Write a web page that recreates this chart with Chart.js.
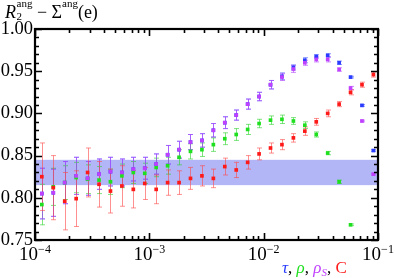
<!DOCTYPE html>
<html>
<head>
<meta charset="utf-8">
<script src="https://cdn.jsdelivr.net/npm/chart.js@4.4.1/dist/chart.umd.min.js"></script>
<style>
  html, body { margin: 0; padding: 0; background: #fff; }
  canvas { display: block; }
</style>
</head>
<body>
<canvas id="grafica" width="395" height="278"></canvas>
<script>
// x positions of the bins (log spaced)
const xVals = [
  1.148e-4, 1.445e-4, 1.820e-4, 2.291e-4, 2.884e-4, 3.631e-4, 4.571e-4, 5.754e-4, 7.244e-4, 9.120e-4,
  1.148e-3, 1.445e-3, 1.820e-3, 2.291e-3, 2.884e-3, 3.631e-3, 4.571e-3, 5.754e-3, 7.244e-3, 9.120e-3,
  1.148e-2, 1.445e-2, 1.820e-2, 2.291e-2, 2.884e-2, 3.631e-2, 4.571e-2, 5.754e-2, 7.244e-2, 9.120e-2
];

// tau (blue) - sits under rho_S until ~2e-2
const tauVals = [
  0.805, 0.806, 0.818, 0.826, 0.823, 0.828, 0.831, 0.830, 0.834, 0.835,
  0.840, 0.851, 0.857, 0.866, 0.868, 0.880, 0.889, 0.898, 0.911, 0.920,
  0.934, 0.944, 0.9545, 0.963, 0.9675, 0.9687, 0.960, 0.943, 0.9095, 0.856
];
const tauErr = [
  0.030, 0.028, 0.025, 0.022, 0.020, 0.018, 0.017, 0.016, 0.014, 0.013,
  0.012, 0.011, 0.010, 0.009, 0.008, 0.008, 0.007, 0.006, 0.006, 0.005,
  0.005, 0.004, 0.003, 0.003, 0.002, 0.002, 0.002, 0.001, 0.001, 0.001
];

// rho (green)
const rhoVals = [
  0.792, 0.813, 0.818, 0.824, 0.822, 0.821, 0.819, 0.826, 0.830, 0.829,
  0.836, 0.838, 0.848, 0.855, 0.857, 0.863, 0.870, 0.875, 0.881, 0.888,
  0.892, 0.893, 0.891, 0.886, 0.875, 0.853, 0.819, 0.768, null, null
];
const rhoErr = [
  0.024, 0.022, 0.020, 0.018, 0.017, 0.016, 0.015, 0.014, 0.013, 0.012,
  0.011, 0.010, 0.009, 0.009, 0.008, 0.008, 0.007, 0.007, 0.006, 0.005,
  0.005, 0.005, 0.004, 0.004, 0.003, 0.002, 0.002, 0.001, 0, 0
];

// rho_S (purple)
const rhoSVals = [
  0.805, 0.806, 0.818, 0.826, 0.823, 0.828, 0.831, 0.830, 0.834, 0.835,
  0.840, 0.851, 0.857, 0.866, 0.868, 0.880, 0.889, 0.898, 0.911, 0.920,
  0.934, 0.943, 0.9526, 0.960, 0.964, 0.964, 0.952, 0.930, 0.891, 0.828
];
const rhoSErr = [
  0.030, 0.028, 0.025, 0.022, 0.020, 0.018, 0.017, 0.016, 0.014, 0.013,
  0.012, 0.011, 0.010, 0.009, 0.008, 0.008, 0.007, 0.006, 0.006, 0.005,
  0.005, 0.004, 0.004, 0.003, 0.003, 0.003, 0.002, 0.002, 0.001, 0.001
];

// C (red)
const cVals = [
  0.825, 0.812, 0.796, 0.799, 0.830, 0.816, 0.808, 0.814, 0.810, 0.817,
  0.810, 0.818, 0.818, 0.823, 0.826, 0.823, 0.837, 0.833, 0.842, 0.852,
  0.859, 0.863, 0.871, 0.879, 0.890, 0.900, 0.911, 0.925, 0.934, 0.946
];
const cErr = [
  0.040, 0.038, 0.034, 0.033, 0.029, 0.027, 0.026, 0.024, 0.022, 0.019,
  0.017, 0.015, 0.014, 0.013, 0.012, 0.011, 0.010, 0.009, 0.008, 0.007,
  0.006, 0.006, 0.005, 0.005, 0.004, 0.004, 0.003, 0.003, 0.003, 0.003
];

// shaded band
const bandLow = 0.815;
const bandHigh = 0.845;

const yTickLabels = [0.75, 0.80, 0.85, 0.90, 0.95, 1.00];
const xDecades = [-4, -3, -2, -1];

const SERIF = "'Liberation Serif', 'DejaVu Serif', serif";

const toPoints = (vals) => vals.map((v, i) => ({ x: xVals[i], y: v }));

// draw a row of text pieces, each with its own font / colour / shift
function drawRuns(ctx, x, base, runs) {
  ctx.textAlign = "left";
  ctx.textBaseline = "alphabetic";
  for (const r of runs) {
    ctx.font = r.font;
    ctx.fillStyle = r.color || "#000";
    ctx.fillText(r.t, x, base + (r.dy || 0));
    let w = ctx.measureText(r.t).width;
    if (r.stack) {
      ctx.font = r.stack.font;
      ctx.fillStyle = r.stack.color || "#000";
      ctx.fillText(r.stack.t, x, base + r.stack.dy);
      w = Math.max(w, ctx.measureText(r.stack.t).width);
    }
    x += w + (r.gap || 0);
  }
  return x;
}

const decorations = {
  id: "decorations",
  beforeDatasetsDraw(chart) {
    const { ctx, chartArea: a, scales: { x, y } } = chart;
    ctx.save();
    // band
    const yt = y.getPixelForValue(bandHigh);
    const yb = y.getPixelForValue(bandLow);
    ctx.fillStyle = "#b3b6f6";
    ctx.fillRect(a.left, yt, a.right - a.left, yb - yt);

    // error bars, bottom dataset first
    ctx.lineWidth = 1;
    for (let i = chart.data.datasets.length - 1; i >= 0; i--) {
      const ds = chart.data.datasets[i];
      ctx.strokeStyle = ds.barColor;
      ds.data.forEach((p, j) => {
        if (p.y == null) return;
        const e = ds.errors[j];
        if (!e) return;
        const px = Math.round(x.getPixelForValue(p.x)) + 0.5;
        const y1 = y.getPixelForValue(p.y + e);
        const y2 = y.getPixelForValue(p.y - e);
        ctx.beginPath();
        ctx.moveTo(px, y1); ctx.lineTo(px, y2);
        ctx.moveTo(px - 2.5, y1); ctx.lineTo(px + 2.5, y1);
        ctx.moveTo(px - 2.5, y2); ctx.lineTo(px + 2.5, y2);
        ctx.stroke();
      });
    }
    ctx.restore();
  },
  afterDatasetsDraw(chart) {
    const { ctx, chartArea: a, scales: { x, y } } = chart;
    ctx.save();
    ctx.strokeStyle = "#000";
    // ticks
    ctx.lineWidth = 1.6;
    ctx.beginPath();
    for (let k = 0; k <= 25; k++) {
      const v = 0.75 + k * 0.01;
      const py = Math.round(y.getPixelForValue(v)) + 0.5;
      const len = k % 5 === 0 ? 7 : 4;
      ctx.moveTo(a.left, py); ctx.lineTo(a.left + len, py);
      ctx.moveTo(a.right, py); ctx.lineTo(a.right - len, py);
    }
    for (const d of xDecades) {
      for (let m = 1; m <= 9; m++) {
        if (d === -1 && m > 1) break;
        const px = Math.round(x.getPixelForValue(m * Math.pow(10, d))) + 0.5;
        const len = m === 1 ? 7 : 4;
        ctx.moveTo(px, a.bottom); ctx.lineTo(px, a.bottom - len);
        ctx.moveTo(px, a.top); ctx.lineTo(px, a.top + len);
      }
    }
    ctx.stroke();
    // frame
    ctx.lineWidth = 2.2;
    ctx.strokeRect(a.left, a.top, a.right - a.left, a.bottom - a.top);
    ctx.restore();
  },
  afterDraw(chart) {
    const { ctx, chartArea: a, scales: { x } } = chart;
    ctx.save();
    // x tick labels 10^n
    for (const d of xDecades) {
      const px = x.getPixelForValue(Math.pow(10, d));
      ctx.font = "19px " + SERIF;
      const w1 = ctx.measureText("10").width;
      ctx.font = "12px " + SERIF;
      const exp = "\u2212" + (-d);
      const w2 = ctx.measureText(exp).width;
      const x0 = px - (w1 + w2) / 2;
      drawRuns(ctx, x0, 260, [
        { t: "10", font: "19px " + SERIF },
        { t: exp, font: "12px " + SERIF, dy: -7 }
      ]);
    }
    // y axis title
    drawRuns(ctx, 5, 18, [
      { t: "R", font: "italic 18px " + SERIF, gap: 0.5 },
      { t: "2", font: "11px " + SERIF, dy: 1.5,
        stack: { t: "ang", font: "11px " + SERIF, dy: -11 }, gap: 0 },
      { t: " \u2212 ", font: "18px " + SERIF },
      { t: "\u03A3", font: "18px " + SERIF },
      { t: "ang", font: "11px " + SERIF, dy: -11 },
      { t: "(e)", font: "18px " + SERIF }
    ]);
    // series key
    drawRuns(ctx, 282, 273, [
      { t: "\u03C4", font: "italic 17px " + SERIF, color: "#2a3cff" },
      { t: ", ", font: "17px " + SERIF },
      { t: "\u03C1", font: "italic 17px " + SERIF, color: "#1fe01f" },
      { t: ", ", font: "17px " + SERIF },
      { t: "\u03C1", font: "italic 17px " + SERIF, color: "#c040ff" },
      { t: "S", font: "italic 11px " + SERIF, color: "#c040ff", dy: 3 },
      { t: ", ", font: "17px " + SERIF },
      { t: "C", font: "17px " + SERIF, color: "#ff1a1a" }
    ]);
    ctx.restore();
  }
};

const mkSet = (label, vals, errs, color, barColor) => ({
  label,
  data: toPoints(vals),
  errors: errs,
  barColor,
  backgroundColor: color,
  borderWidth: 0,
  pointStyle: "rect",
  pointRadius: 2.6,
  pointHoverRadius: 2.6
});

const config = {
  type: "scatter",
  data: {
    datasets: [
      mkSet("C", cVals, cErr, "#ff1a1a", "rgba(255,70,70,0.6)"),
      mkSet("rho_S", rhoSVals, rhoSErr, "#c040ff", "rgba(180,70,255,0.65)"),
      mkSet("rho", rhoVals, rhoErr, "#1fe01f", "rgba(40,210,40,0.6)"),
      mkSet("tau", tauVals, tauErr, "#2a3cff", "rgba(60,80,255,0.6)")
    ]
  },
  options: {
    responsive: false,
    animation: false,
    devicePixelRatio: 1,
    layout: { padding: { left: 0, right: 17, top: 29, bottom: 0 } },
    plugins: {
      legend: { display: false },
      tooltip: { enabled: false }
    },
    scales: {
      x: {
        type: "logarithmic",
        min: 1e-4,
        max: 1e-1,
        grid: { display: false },
        border: { display: false },
        ticks: { display: false },
        afterFit: (s) => { s.height = 38; }
      },
      y: {
        type: "linear",
        min: 0.75,
        max: 1.0,
        grid: { display: false, drawTicks: false },
        border: { display: false },
        afterBuildTicks: (s) => { s.ticks = yTickLabels.map((v) => ({ value: v })); },
        ticks: {
          padding: 2,
          color: "#000",
          font: { family: SERIF, size: 18.5 },
          callback: (v) => Number(v).toFixed(2)
        },
        afterFit: (s) => { s.width = 35; }
      }
    }
  },
  plugins: [decorations]
};

const ctx = document.getElementById("grafica").getContext("2d");
window.myChart = new Chart(ctx, config);
</script>
</body>
</html>
